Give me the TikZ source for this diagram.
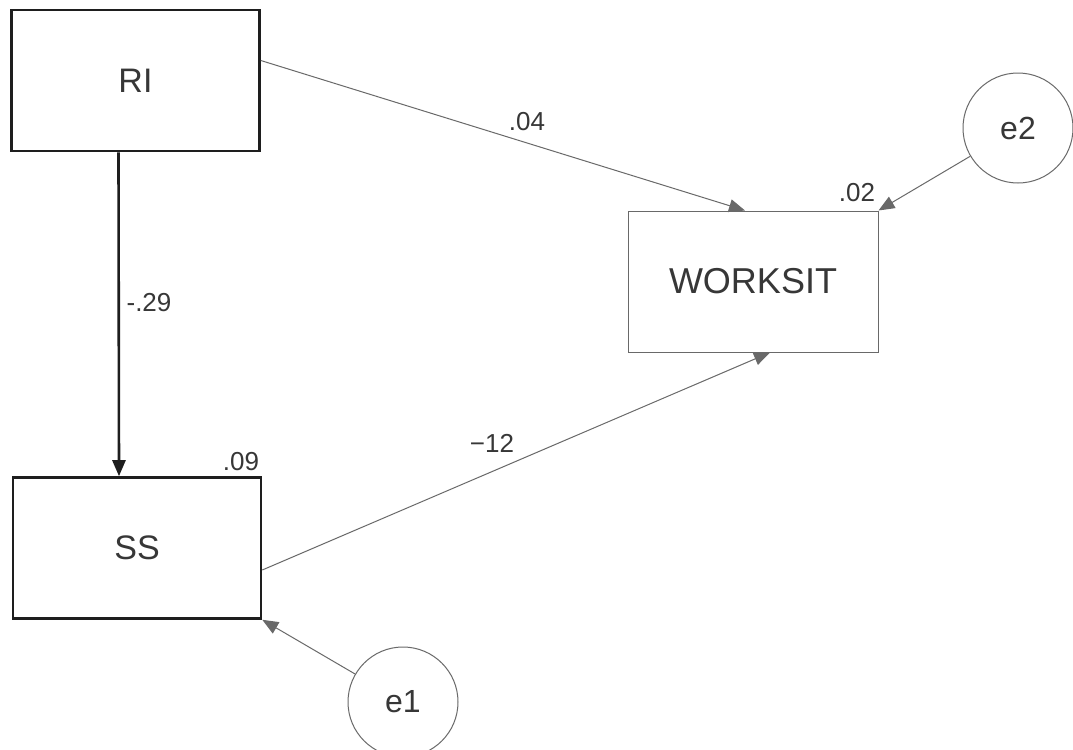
\documentclass[tikz,border=0pt]{standalone}
\usepackage{fontspec}
\setmainfont{Liberation Sans}
\usetikzlibrary{arrows.meta,calc,positioning}
\definecolor{PathGray}{RGB}{105,105,105}
\definecolor{BoxBlack}{RGB}{30,30,30}
\definecolor{TextGray}{RGB}{55,55,55}

\begin{document}
\begin{tikzpicture}[x=0.5pt,y=-0.5pt,
  obsbox/.style={rectangle,draw=BoxBlack,line width=1.3pt,minimum width=124pt,minimum height=70.5pt,text=TextGray,font=\fontsize{17}{20}\selectfont},
  endobox/.style={rectangle,draw=PathGray,line width=0.5pt,minimum width=125pt,minimum height=70.5pt,text=TextGray,font=\fontsize{18}{21}\selectfont},
  errcirc/.style={circle,draw=PathGray,line width=0.5pt,minimum size=55pt,inner sep=0pt,text=TextGray,font=\fontsize{16}{19}\selectfont},
  coef/.style={text=TextGray,font=\fontsize{13}{15}\selectfont,inner sep=1pt},
  path/.style={draw=PathGray,line width=0.5pt,-{Triangle[length=8pt,width=6.5pt]}}]
\useasboundingbox (0,0) rectangle (1073,750);
\fill[white] (0,0) rectangle (1073,750);

% variables
\node[obsbox] (ri) at (135.5,80.5){RI};
\node[obsbox] (ss) at (137,548){SS};
\node[endobox] (ws) at (753,281.5){WORKSIT};
\node[errcirc] (e2) at (1018,128){e2};
\node[errcirc] (e1) at (403,702){e1};

% paths
\draw[path,draw=BoxBlack,line width=1.3pt] ([xshift=-8.5pt]ri.south) -- ([xshift=-9pt]ss.north);
\draw[path] ([yshift=10pt]ri.east) -- ([xshift=-4pt]ws.north);
\draw[path] ([yshift=-11pt]ss.east) -- ([xshift=8.5pt]ws.south);
\draw[path] (e2) -- (ws.north east);
\draw[path] (e1) -- (ss.south east);

% estimates
\node[coef] (b1) at (149,303){-.29};
\node[coef] (b2) at (527,122){.04};
\node[coef] (b3) at (492,443){−12};
\node[coef] (r1) at (241,462){.09};
\node[coef] (r2) at (857,193){.02};
\end{tikzpicture}
\end{document}
